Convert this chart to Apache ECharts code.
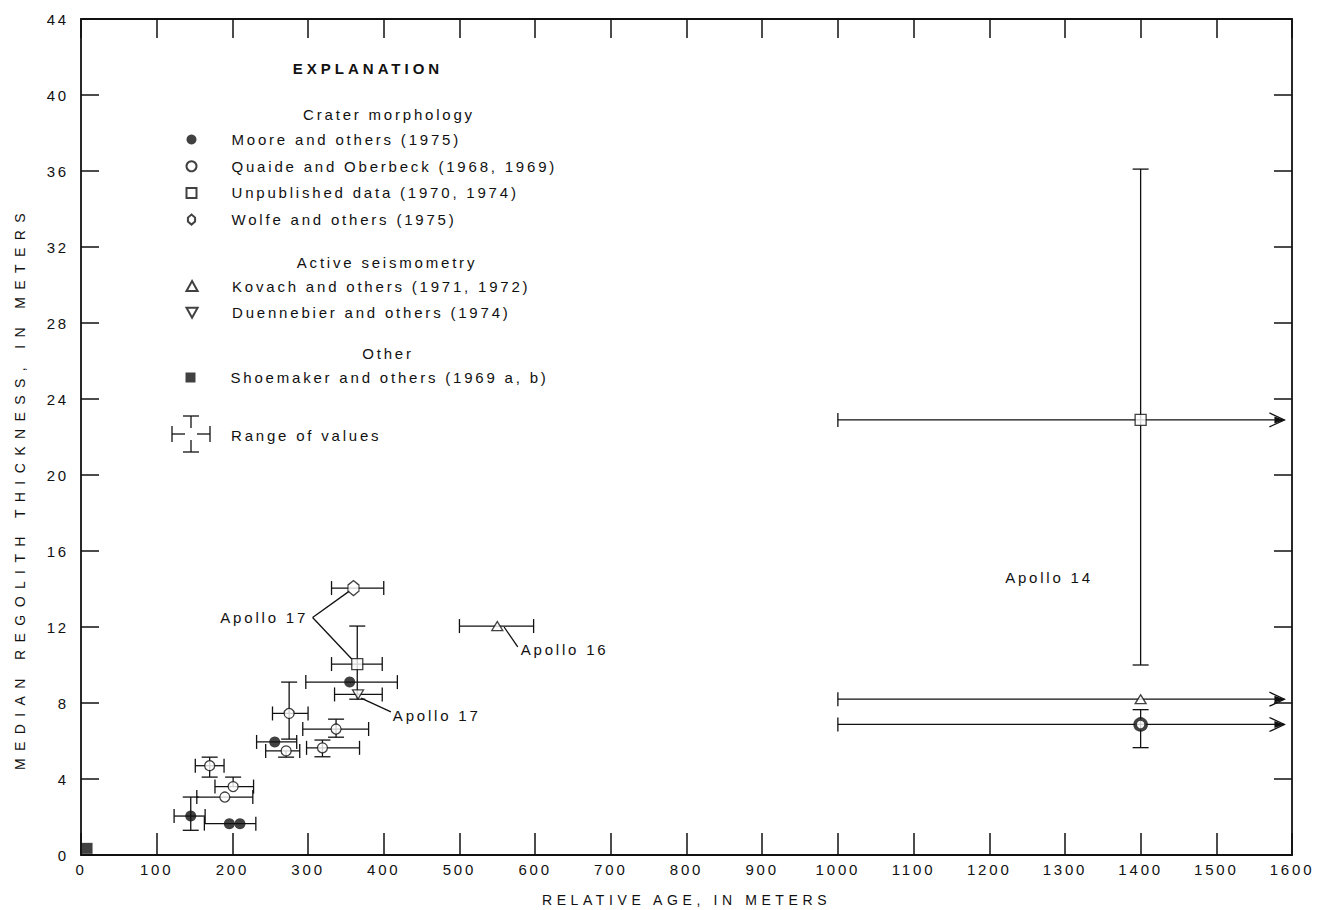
<!DOCTYPE html>
<html>
<head>
<meta charset="utf-8">
<title>Median regolith thickness vs relative age</title>
<script src="https://cdn.jsdelivr.net/npm/echarts@6/dist/echarts.min.js"></script>
<style>
  html, body { margin: 0; padding: 0; background: #fff; }
  #chart { width: 1317px; height: 910px; }
  /* wide tracking of the typeset labels */
  #chart text { letter-spacing: 2.8px; }
  #chart text[style*="bold"] { letter-spacing: 4px; }
  #chart text[style*="14px"] { letter-spacing: 4.6px; }
  #chart text[style*="lighter"] { letter-spacing: 7.4px; }
</style>
</head>
<body>
<div id="chart"></div>
<script>
// ---- axes ----
const xMin = 0, xMax = 1600, xStep = 100;
const yMin = 0, yMax = 44, yStep = 4;
const xTitle = 'RELATIVE AGE, IN METERS';
const yTitle = 'MEDIAN REGOLITH THICKNESS, IN METERS';

// ---- Crater morphology: Moore and others (1975) ----
const mooreName = 'Moore and others (1975)';
const mooreX   = [145, 196, 210, 256, 355];
const mooreY   = [2.05, 1.65, 1.65, 5.95, 9.1];
const mooreXLo = [123, 163, null, 232, 297];
const mooreXHi = [164, 231, null, 285, 418];
const mooreYLo = [1.3, null, null, null, null];
const mooreYHi = [3.05, null, null, null, null];
const mooreOpenEnded = [0, 0, 0, 0, 0];

// ---- Crater morphology: Quaide and Oberbeck (1968, 1969) ----
const quaideName = 'Quaide and Oberbeck (1968, 1969)';
const quaideX   = [170, 201, 190, 275, 337, 271, 319, 1400];
const quaideY   = [4.7, 3.6, 3.05, 7.45, 6.63, 5.48, 5.64, 6.87];
const quaideXLo = [151, 177, 153, 253, 293, 244, 298, 1000];
const quaideXHi = [189, 228, 227, 300, 380, 289, 368, 1590];
const quaideYLo = [4.1, null, null, 6.1, 6.2, 5.15, 5.17, 5.65];
const quaideYHi = [5.15, 4.1, null, 9.1, 7.15, null, 6.05, 7.65];
const quaideOpenEnded = [0, 0, 0, 0, 0, 0, 0, 1];

// ---- Crater morphology: Unpublished data (1970, 1974) ----
const unpubName = 'Unpublished data (1970, 1974)';
const unpubX   = [365, 1400];
const unpubY   = [10.05, 22.9];
const unpubXLo = [331, 1000];
const unpubXHi = [398, 1590];
const unpubYLo = [8.2, 10.0];
const unpubYHi = [12.05, 36.1];
const unpubOpenEnded = [0, 1];

// ---- Crater morphology: Wolfe and others (1975) ----
const wolfeName = 'Wolfe and others (1975)';
const wolfeX   = [360];
const wolfeY   = [14.05];
const wolfeXLo = [331];
const wolfeXHi = [400];
const wolfeYLo = [null];
const wolfeYHi = [null];
const wolfeOpenEnded = [0];

// ---- Active seismometry: Kovach and others (1971, 1972) ----
const kovachName = 'Kovach and others (1971, 1972)';
const kovachX   = [550, 1400];
const kovachY   = [12.05, 8.2];
const kovachXLo = [500, 1000];
const kovachXHi = [598, 1590];
const kovachYLo = [null, null];
const kovachYHi = [null, null];
const kovachOpenEnded = [0, 1];

// ---- Active seismometry: Duennebier and others (1974) ----
const duennName = 'Duennebier and others (1974)';
const duennX   = [366];
const duennY   = [8.45];
const duennXLo = [335];
const duennXHi = [398];
const duennYLo = [null];
const duennYHi = [null];
const duennOpenEnded = [0];

// ---- Other: Shoemaker and others (1969 a, b) ----
const shoeName = 'Shoemaker and others (1969 a, b)';
const shoeX = [8];
const shoeY = [0.35];

// ---- site annotations (anchor in data units) ----
const noteText = ['Apollo 17', 'Apollo 17', 'Apollo 16', 'Apollo 14'];
const noteX    = [300, 412, 581, 1221];
const noteY    = [12.5, 7.32, 10.8, 14.6];
const noteSide = ['right', 'left', 'left', 'left'];
// leader lines: [x1, y1, x2, y2] per annotation
const noteLeaders = [
  [[306, 12.5, 355, 13.9], [306, 12.5, 358, 10.3]],
  [[370, 8.26, 409.5, 7.53]],
  [[559, 12.0, 577, 10.95]],
  []
];

// ---- explanation headings ----
const explTitle = 'EXPLANATION';
const groupHeads = ['Crater morphology', 'Active seismometry', 'Other'];
const rangeLabel = 'Range of values';

// ======================================================================
const FONT = 'Liberation Sans';
const INK = '#111';

function rows(xs, ys, xlo, xhi, ylo, yhi, open) {
  return xs.map((x, i) => ({
    x: x, y: ys[i], xlo: xlo[i], xhi: xhi[i], ylo: ylo[i], yhi: yhi[i], open: !!open[i]
  }));
}
const rangeRows = [].concat(
  rows(mooreX, mooreY, mooreXLo, mooreXHi, mooreYLo, mooreYHi, mooreOpenEnded),
  rows(quaideX, quaideY, quaideXLo, quaideXHi, quaideYLo, quaideYHi, quaideOpenEnded),
  rows(unpubX, unpubY, unpubXLo, unpubXHi, unpubYLo, unpubYHi, unpubOpenEnded),
  rows(wolfeX, wolfeY, wolfeXLo, wolfeXHi, wolfeYLo, wolfeYHi, wolfeOpenEnded),
  rows(kovachX, kovachY, kovachXLo, kovachXHi, kovachYLo, kovachYHi, kovachOpenEnded),
  rows(duennX, duennY, duennXLo, duennXHi, duennYLo, duennYHi, duennOpenEnded)
);

const lineStyle = { stroke: INK, lineWidth: 1.3, fill: null };
function seg(a, b) {
  return { type: 'line', shape: { x1: a[0], y1: a[1], x2: b[0], y2: b[1] }, style: lineStyle };
}

function renderRange(params, api) {
  const r = rangeRows[params.dataIndex];
  const kids = [];
  const capH = 7, capV = 8;
  if (r.xlo != null && r.xhi != null) {
    const a = api.coord([r.xlo, r.y]);
    const b = api.coord([r.xhi, r.y]);
    kids.push(seg(a, b));
    kids.push(seg([a[0], a[1] - capH], [a[0], a[1] + capH]));
    if (r.open) {
      kids.push({ type: 'polyline', shape: { points: [[b[0] - 15, b[1] - 7], [b[0], b[1]], [b[0] - 15, b[1] + 7]] }, style: lineStyle });
      kids.push({ type: 'polygon', shape: { points: [[b[0] - 10, b[1] - 3.5], [b[0], b[1]], [b[0] - 10, b[1] + 3.5]] }, style: { fill: INK } });
    } else {
      kids.push(seg([b[0], b[1] - capH], [b[0], b[1] + capH]));
    }
  }
  if (r.ylo != null || r.yhi != null) {
    const lo = api.coord([r.x, r.ylo != null ? r.ylo : r.y]);
    const hi = api.coord([r.x, r.yhi != null ? r.yhi : r.y]);
    kids.push(seg(lo, hi));
    if (r.ylo != null) kids.push(seg([lo[0] - capV, lo[1]], [lo[0] + capV, lo[1]]));
    if (r.yhi != null) kids.push(seg([hi[0] - capV, hi[1]], [hi[0] + capV, hi[1]]));
  }
  return { type: 'group', children: kids };
}

function renderNote(params, api) {
  const i = params.dataIndex;
  const kids = [];
  noteLeaders[i].forEach(l => {
    kids.push(seg(api.coord([l[0], l[1]]), api.coord([l[2], l[3]])));
  });
  const p = api.coord([noteX[i], noteY[i]]);
  kids.push({
    type: 'text', x: p[0], y: p[1],
    style: {
      text: noteText[i], fill: INK, fontSize: 15, fontFamily: FONT,
      align: noteSide[i], verticalAlign: 'middle'
    }
  });
  return { type: 'group', children: kids };
}

const openStyle = { color: '#fff', borderColor: INK, borderWidth: 1.3 };
const filledStyle = { color: INK, borderColor: INK, borderWidth: 0 };
const hexPath = 'path://M5,0 L10,4.2 L10,9.8 L5,14 L0,9.8 L0,4.2 Z';
const squarePath = 'path://M0,0 L10,0 L10,10 L0,10 Z';
const upTri = 'path://M5,0 L10,9 L0,9 Z';
const downTri = 'path://M0,0 L10,0 L5,9 Z';

function pts(xs, ys) { return xs.map((x, i) => [x, ys[i]]); }

const heavyRing = new Set([7]); // Apollo 14 circle printed with a heavy outline
const quaideData = quaideX.map((x, i) => heavyRing.has(i)
  ? { value: [x, quaideY[i]], symbolSize: 11, itemStyle: { borderWidth: 3.6 } }
  : [x, quaideY[i]]);

const scatterBase = { type: 'scatter', z: 5, silent: true, xAxisIndex: 0, yAxisIndex: 0 };

const legendText = { fontSize: 15, fontFamily: FONT, color: INK, lineHeight: 15 };
const legendBase = {
  orient: 'vertical', left: 185.5, itemWidth: 70, itemHeight: 10, itemGap: 11.7,
  padding: 0, selectedMode: false, textStyle: legendText
};

const axisLineStyle = { color: INK, width: 1.8 };
const tickStyle = { color: INK, width: 1.5 };
const plainNumber = v => String(v);

const option = {
  backgroundColor: '#fff',
  animation: false,
  grid: { left: 81, right: 25, top: 19, bottom: 55, outerBoundsMode: 'none', containLabel: false },
  xAxis: [
    {
      type: 'value', position: 'bottom', min: xMin, max: xMax, interval: xStep,
      name: xTitle, nameLocation: 'middle', nameGap: 38,
      nameTextStyle: { fontSize: 14, fontFamily: FONT, color: INK },
      axisLine: { show: true, onZero: false, lineStyle: axisLineStyle },
      axisTick: { show: true, inside: true, length: 22, lineStyle: tickStyle },
      axisLabel: { show: true, margin: 7, fontSize: 15, fontFamily: FONT, color: INK, formatter: plainNumber },
      splitLine: { show: false }
    },
    {
      type: 'value', position: 'top', min: xMin, max: xMax, interval: xStep,
      axisLine: { show: true, onZero: false, lineStyle: axisLineStyle },
      axisTick: { show: true, inside: true, length: 19, lineStyle: tickStyle },
      axisLabel: { show: false },
      splitLine: { show: false }
    }
  ],
  yAxis: [
    {
      type: 'value', position: 'left', min: yMin, max: yMax, interval: yStep,
      axisLine: { show: true, onZero: false, lineStyle: axisLineStyle },
      axisTick: { show: true, inside: true, length: 18, lineStyle: tickStyle },
      axisLabel: { show: true, margin: 12, fontSize: 15, fontFamily: FONT, color: INK, formatter: plainNumber },
      splitLine: { show: false }
    },
    {
      type: 'value', position: 'right', min: yMin, max: yMax, interval: yStep,
      axisLine: { show: true, onZero: false, lineStyle: axisLineStyle },
      axisTick: { show: true, inside: true, length: 18, lineStyle: tickStyle },
      axisLabel: { show: false },
      splitLine: { show: false }
    }
  ],
  legend: [
    Object.assign({}, legendBase, { top: 132, data: [mooreName, quaideName, unpubName, wolfeName] }),
    Object.assign({}, legendBase, { top: 278.5, data: [kovachName, duennName] }),
    Object.assign({}, legendBase, { top: 370, data: [shoeName] })
  ],
  graphic: [
    { type: 'text', x: 368, y: 68, style: { text: explTitle, fontSize: 15, fontWeight: 'bold', fontFamily: FONT, fill: INK, align: 'center', verticalAlign: 'middle', textAlign: 'center', textVerticalAlign: 'middle' } },
    { type: 'text', x: 389, y: 114.5, style: { text: groupHeads[0], fontSize: 15, fontFamily: FONT, fill: INK, align: 'center', verticalAlign: 'middle', textAlign: 'center', textVerticalAlign: 'middle' } },
    { type: 'text', x: 387, y: 262, style: { text: groupHeads[1], fontSize: 15, fontFamily: FONT, fill: INK, align: 'center', verticalAlign: 'middle', textAlign: 'center', textVerticalAlign: 'middle' } },
    { type: 'text', x: 388, y: 353.5, style: { text: groupHeads[2], fontSize: 15, fontFamily: FONT, fill: INK, align: 'center', verticalAlign: 'middle', textAlign: 'center', textVerticalAlign: 'middle' } },
    { type: 'text', x: 231, y: 435, style: { text: rangeLabel, fontSize: 15, fontFamily: FONT, fill: INK, align: 'left', verticalAlign: 'middle', textAlign: 'left', textVerticalAlign: 'middle' } },
    // range-of-values key: a cross with end caps, open at the centre
    {
      type: 'group', x: 191, y: 434,
      children: [
        { type: 'line', shape: { x1: -19, y1: 0, x2: -6, y2: 0 }, style: lineStyle },
        { type: 'line', shape: { x1: 6, y1: 0, x2: 19, y2: 0 }, style: lineStyle },
        { type: 'line', shape: { x1: -19, y1: -8, x2: -19, y2: 8 }, style: lineStyle },
        { type: 'line', shape: { x1: 19, y1: -8, x2: 19, y2: 8 }, style: lineStyle },
        { type: 'line', shape: { x1: 0, y1: -18, x2: 0, y2: -6 }, style: lineStyle },
        { type: 'line', shape: { x1: 0, y1: 6, x2: 0, y2: 18 }, style: lineStyle },
        { type: 'line', shape: { x1: -8, y1: -18, x2: 8, y2: -18 }, style: lineStyle },
        { type: 'line', shape: { x1: -8, y1: 18, x2: 8, y2: 18 }, style: lineStyle }
      ]
    },
    // vertical axis title
    { type: 'text', x: 20, y: 488, rotation: Math.PI / 2, style: { text: yTitle, fontSize: 14, fontWeight: 'lighter', fontFamily: FONT, fill: INK, align: 'center', verticalAlign: 'middle', textAlign: 'center', textVerticalAlign: 'middle' } }
  ],
  series: [
    {
      name: 'ranges', type: 'custom', z: 2, silent: true,
      xAxisIndex: 0, yAxisIndex: 0,
      data: rangeRows.map(r => [r.x, r.y]),
      encode: { x: 0, y: 1 },
      renderItem: renderRange
    },
    {
      name: 'notes', type: 'custom', z: 3, silent: true,
      xAxisIndex: 0, yAxisIndex: 0,
      data: noteX.map((x, i) => [x, noteY[i]]),
      encode: { x: 0, y: 1 },
      renderItem: renderNote
    },
    Object.assign({}, scatterBase, { name: mooreName, symbol: 'circle', symbolSize: 11, itemStyle: filledStyle, data: pts(mooreX, mooreY) }),
    Object.assign({}, scatterBase, { name: quaideName, symbol: 'circle', symbolSize: 10, itemStyle: openStyle, data: quaideData }),
    Object.assign({}, scatterBase, { name: unpubName, symbol: squarePath, symbolSize: 11, itemStyle: openStyle, data: pts(unpubX, unpubY) }),
    Object.assign({}, scatterBase, { name: wolfeName, symbol: hexPath, symbolSize: [11, 15], itemStyle: openStyle, data: pts(wolfeX, wolfeY) }),
    Object.assign({}, scatterBase, { name: kovachName, symbol: upTri, symbolSize: [11, 9], itemStyle: openStyle, data: pts(kovachX, kovachY) }),
    Object.assign({}, scatterBase, { name: duennName, symbol: downTri, symbolSize: [11, 9], itemStyle: openStyle, data: pts(duennX, duennY) }),
    Object.assign({}, scatterBase, { name: shoeName, symbol: squarePath, symbolSize: 11, itemStyle: filledStyle, data: pts(shoeX, shoeY) })
  ]
};

const chart = echarts.init(document.getElementById('chart'), null, { renderer: 'svg', width: 1317, height: 910 });
chart.setOption(option);
</script>
</body>
</html>
